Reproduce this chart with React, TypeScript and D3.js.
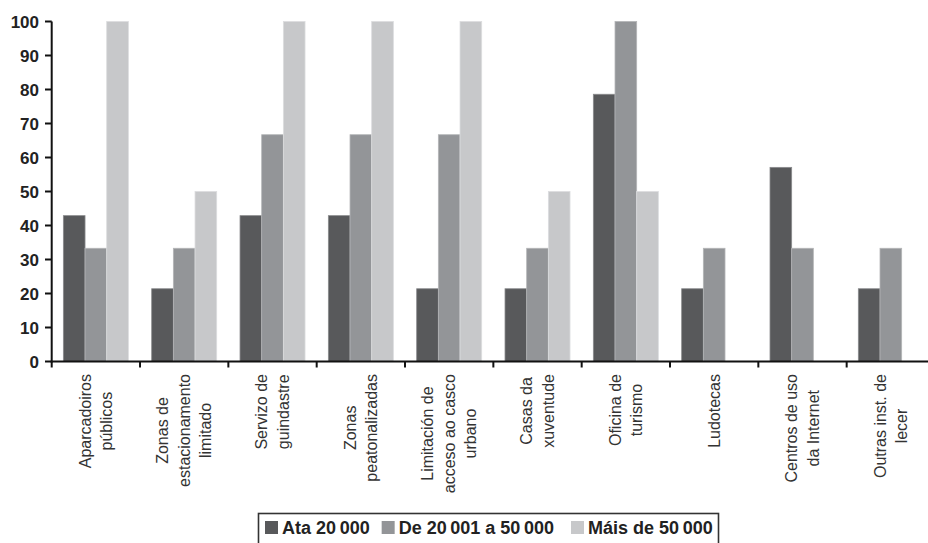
import React from "react";
import * as d3 from "d3";

const categories: string[][] = [
  ["Aparcadoiros", "públicos"],
  ["Zonas de", "estacionamento", "limitado"],
  ["Servizo de", "guindastre"],
  ["Zonas", "peatonalizadas"],
  ["Limitación de", "acceso ao casco", "urbano"],
  ["Casas da", "xuventude"],
  ["Oficina de", "turismo"],
  ["Ludotecas"],
  ["Centros de uso", "da Internet"],
  ["Outras inst. de", "lecer"],
];

const seriesNames = ["Ata 20\u2009000", "De 20\u2009001  a 50\u2009000", "Máis de 50\u2009000"];
const ata20000 = [42.9, 21.4, 42.9, 42.9, 21.4, 21.4, 78.6, 21.4, 57.1, 21.4];
const de20001a50000 = [33.3, 33.3, 66.7, 66.7, 66.7, 33.3, 100, 33.3, 33.3, 33.3];
const mais50000 = [100, 50, 100, 100, 100, 50, 50, 0, 0, 0];
const yTicks = [0, 10, 20, 30, 40, 50, 60, 70, 80, 90, 100];

const colors = ["#58595b", "#939598", "#c7c8ca"];
const strokes = ["#8a8b8d", "#b4b5b7", "#dcdddf"];

const W = 928;
const H = 543;
const FONT = "'Liberation Sans', Arial, Helvetica, sans-serif";

let ctx: CanvasRenderingContext2D | null = null;
function measure(t: string, font: string): number {
  if (!ctx) {
    const c = document.createElement("canvas");
    ctx = c.getContext("2d");
  }
  if (!ctx) return t.length * 8;
  ctx.font = font;
  return ctx.measureText(t).width;
}

export default function App() {
  const series = [ata20000, de20001a50000, mais50000];
  const idx = categories.map((_, i) => String(i));
  const x0 = d3.scaleBand<string>().domain(idx).range([51.7, 935]).paddingInner(0).paddingOuter(0);
  const bw = x0.bandwidth();
  const x1 = d3
    .scaleBand<string>()
    .domain(["0", "1", "2"])
    .range([bw * 0.132, bw * 0.868])
    .padding(0);
  const y = d3.scaleLinear().domain([0, 100]).range([361.5, 21.5]);

  const labelFont = `16px ${FONT}`;
  const lineH = 21.5;
  const labelTop = 374;

  return (
    <svg width={W} height={H} style={{ position: "absolute", left: 0, top: 0, background: "#fff" }}>
      <rect x={0} y={0} width={W} height={H} fill="#fff" />
      {/* bars */}
      {categories.map((_, ci) =>
        series.map((s, si) => {
          const v = s[ci];
          if (!v) return null;
          const bx = (x0(String(ci)) as number) + (x1(String(si)) as number);
          return (
            <rect
              key={`${ci}-${si}`}
              x={bx}
              y={y(v)}
              width={x1.bandwidth()}
              height={y(0) - y(v)}
              fill={colors[si]}
              stroke={strokes[si]}
              strokeWidth={0.8}
            />
          );
        })
      )}
      {/* y axis */}
      <line x1={51.7} x2={51.7} y1={y(100)} y2={y(0) + 1} stroke="#111" strokeWidth={2} />
      {yTicks.map((t) => (
        <g key={t}>
          <line x1={45} x2={51.7} y1={y(t)} y2={y(t)} stroke="#111" strokeWidth={2} />
          <text
            x={39}
            y={y(t)}
            dy="0.36em"
            textAnchor="end"
            fontFamily={FONT}
            fontWeight="bold"
            fontSize={17}
            fill="#222"
          >
            {t}
          </text>
        </g>
      ))}
      {/* x axis */}
      <line x1={50.7} x2={W} y1={y(0)} y2={y(0)} stroke="#111" strokeWidth={2} />
      {idx.concat([String(categories.length)]).map((k, i) => {
        const tx = i < categories.length ? (x0(k) as number) : (x0(String(i - 1)) as number) + bw;
        return <line key={`t${i}`} x1={tx} x2={tx} y1={y(0)} y2={y(0) + 6} stroke="#111" strokeWidth={2} />;
      })}
      {/* x labels */}
      {categories.map((lines, ci) => {
        const cx = (x0(String(ci)) as number) + bw / 2;
        const maxW = Math.max(...lines.map((l) => measure(l, labelFont)));
        const cy = labelTop + maxW / 2;
        const n = lines.length;
        return (
          <g key={`l${ci}`}>
            {lines.map((l, li) => {
              const lx = cx + (li - (n - 1) / 2) * lineH;
              return (
                <text
                  key={li}
                  transform={`translate(${lx},${cy}) rotate(-90)`}
                  textAnchor="middle"
                  dy="0.35em"
                  fontFamily={FONT}
                  fontSize={16}
                  fill="#333"
                >
                  {l}
                </text>
              );
            })}
          </g>
        );
      })}
      {/* legend */}
      <g>
        <rect x={258.5} y={513.5} width={460} height={40} fill="#fff" stroke="#333" strokeWidth={1.6} />
        {(() => {
          const lf = `bold 18px ${FONT}`;
          let cx = 265;
          return seriesNames.map((n, i) => {
            const sx = cx;
            const tw = measure(n, lf);
            cx = sx + 13 + 4 + tw + 12;
            return (
              <g key={n}>
                <rect x={sx} y={521} width={13} height={13} fill={colors[i]} />
                <text x={sx + 17} y={534} fontFamily={FONT} fontWeight="bold" fontSize={18} fill="#222">
                  {n}
                </text>
              </g>
            );
          });
        })()}
      </g>
    </svg>
  );
}
